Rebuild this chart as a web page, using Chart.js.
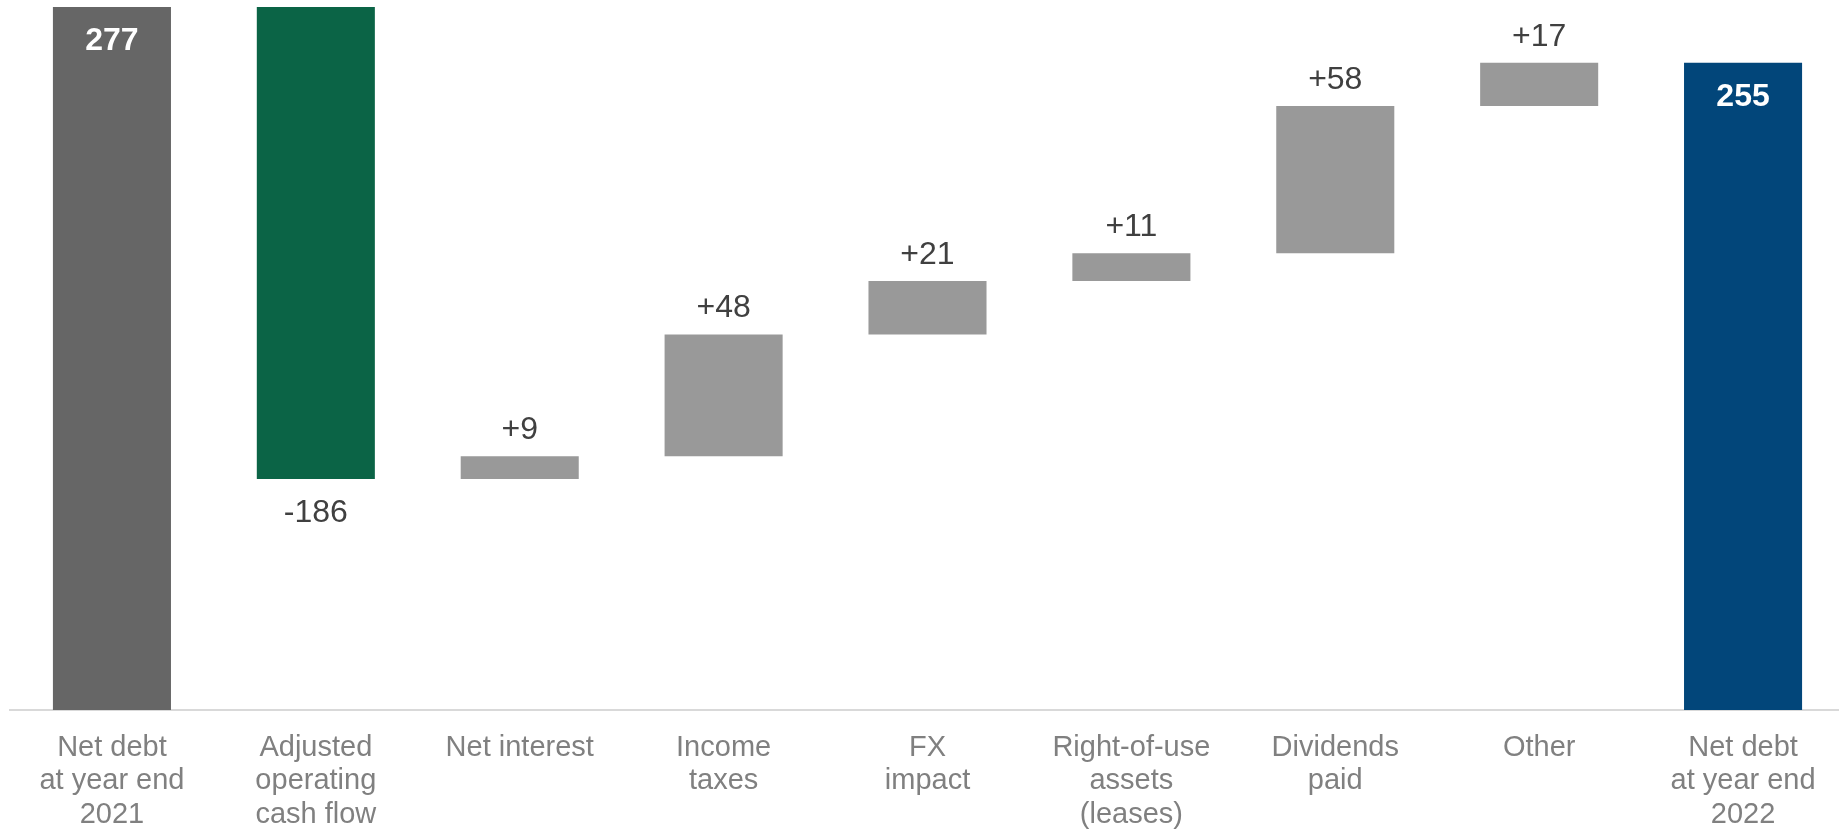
<!DOCTYPE html>
<html>
<head>
<meta charset="utf-8">
<script src="https://cdn.jsdelivr.net/npm/chart.js@4.4.1/dist/chart.umd.min.js"></script>
<style>
  html, body { margin: 0; padding: 0; background: #fff; overflow: hidden; }
  #wrap { width: 1845px; height: 829px; position: relative; }
</style>
</head>
<body>
<div id="wrap"><canvas id="bridgeChart"></canvas></div>
<script>
const categories = [
  ['Net debt', 'at year end', '2021'],
  ['Adjusted', 'operating', 'cash flow'],
  'Net interest',
  ['Income', 'taxes'],
  ['FX', 'impact'],
  ['Right-of-use', 'assets', '(leases)'],
  ['Dividends', 'paid'],
  'Other',
  ['Net debt', 'at year end', '2022']
];
const steps = [277, -186, 9, 48, 21, 11, 58, 17, 255];
const isTotal = [true, false, false, false, false, false, false, false, true];
const barColors = ['#666666', '#0b6446', '#999999', '#999999', '#999999', '#999999', '#999999', '#999999', '#02467a'];

// floating ranges for the bridge
let running = 0;
const ranges = steps.map((v, i) => {
  if (isTotal[i]) {
    running = v;
    return [0, v];
  }
  const r = [running, running + v];
  running += v;
  return r;
});

function labelText(i) {
  const v = steps[i];
  if (isTotal[i]) return String(v);
  return (v > 0 ? '+' : '') + v;
}

const valueLabels = {
  id: 'valueLabels',
  afterDatasetsDraw(chart) {
    const ctx = chart.ctx;
    const meta = chart.getDatasetMeta(0);
    ctx.save();
    ctx.textAlign = 'center';
    ctx.textBaseline = 'alphabetic';
    meta.data.forEach((bar, i) => {
      const top = Math.min(bar.y, bar.base);
      const bottom = Math.max(bar.y, bar.base);
      if (isTotal[i]) {
        ctx.font = 'bold 32px "Liberation Sans", Arial, sans-serif';
        ctx.fillStyle = '#ffffff';
        ctx.fillText(labelText(i), bar.x, top + 43);
      } else if (steps[i] < 0) {
        ctx.font = '32px "Liberation Sans", Arial, sans-serif';
        ctx.fillStyle = '#404040';
        ctx.fillText(labelText(i), bar.x, bottom + 43);
      } else {
        ctx.font = '32px "Liberation Sans", Arial, sans-serif';
        ctx.fillStyle = '#404040';
        ctx.fillText(labelText(i), bar.x, top - 17);
      }
    });
    ctx.restore();
  }
};

Chart.defaults.font.family = '"Liberation Sans", Arial, sans-serif';

new Chart(document.getElementById('bridgeChart'), {
  type: 'bar',
  data: {
    labels: categories,
    datasets: [{
      data: ranges,
      backgroundColor: barColors,
      borderWidth: 0,
      categoryPercentage: 1,
      barPercentage: 0.579
    }]
  },
  options: {
    responsive: true,
    maintainAspectRatio: false,
    animation: false,
    layout: { padding: { top: 7, left: 10, right: 0, bottom: 0 } },
    plugins: {
      legend: { display: false },
      tooltip: { enabled: false }
    },
    scales: {
      y: { display: false, min: 0, max: 277 },
      x: {
        afterFit(scale) { scale.height = 119; },
        grid: { display: false, drawTicks: false },
        border: { display: true, color: '#d9d9d9', width: 2 },
        ticks: {
          color: '#808080',
          padding: 21,
          maxRotation: 0,
          autoSkip: false,
          font: { size: 29, lineHeight: 1.155 }
        }
      }
    }
  },
  plugins: [valueLabels]
});
</script>
</body>
</html>
